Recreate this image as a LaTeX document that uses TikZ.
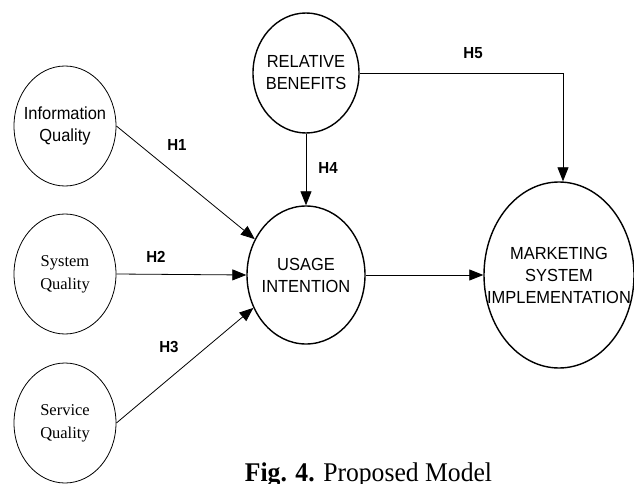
\documentclass[tikz,border=0pt]{standalone}
\usepackage{fontspec}
\setmainfont{Liberation Serif}
\newfontfamily\lblsans[FakeStretch=0.94]{Liberation Sans}
\newfontfamily\lblserif{Liberation Serif}
\newfontfamily\capserif[FakeStretch=0.95]{Liberation Serif}
\usetikzlibrary{shapes.geometric,arrows.meta}
\begin{document}
\begin{tikzpicture}[x=1pt,y=-1pt,
  thinell/.style={draw,ellipse,line width=0.8pt,inner sep=0pt,minimum width=102pt,minimum height=120pt},
  thickell/.style={draw,ellipse,line width=1.4pt,inner sep=0pt},
  sanslbl/.style={align=center,inner sep=0pt,font=\lblsans\fontsize{17.5}{22}\selectfont},
  seriflbl/.style={align=center,inner sep=0pt,font=\lblserif\fontsize{16.5}{23}\selectfont},
  hlbl/.style={inner sep=0pt,font=\lblsans\bfseries\fontsize{16}{18}\selectfont},
  arr/.style={line width=0.8pt,-{Triangle[length=14pt,width=11pt]}}]
\useasboundingbox (0,0) rectangle (634,484);
% ellipses
\node[thinell] (iq) at (65,126) {};
\node[thinell] (sq) at (65,274) {};
\node[thinell] (svq) at (65,423) {};
\node[thickell,minimum width=106pt,minimum height=120pt] (rb) at (306,73) {};
\node[thickell,minimum width=118pt,minimum height=138pt] (ui) at (306,275) {};
\node[thickell,minimum width=150pt,minimum height=186pt] (msi) at (559,275) {};
% texts
\node[sanslbl] (iqt) at (iq) {Information\\Quality};
\node[seriflbl] (sqt) at (sq) {System\\Quality};
\node[seriflbl] (svqt) at (svq) {Service\\Quality};
\node[sanslbl] (rbt) at (rb) {RELATIVE\\BENEFITS};
\node[sanslbl] (uit) at (ui) {USAGE\\INTENTION};
\node[sanslbl] (msit) at (msi) {MARKETING\\SYSTEM\\IMPLEMENTATION};
% connectors
\draw[arr] (iq.east) -- (ui.145);
\draw[arr] (sq.east) -- (ui.west);
\draw[arr] (svq.east) -- (ui.212);
\draw[arr] (rb.south) -- (ui.north);
\draw[arr] (ui.east) -- (msi.west);
\draw[arr] (rb.east) -| ([xshift=4pt]msi.north);
% hypothesis labels
\node[hlbl] (h1) at (177,145) {H1};
\node[hlbl] (h2) at (156,257) {H2};
\node[hlbl] (h3) at (169,347) {H3};
\node[hlbl] (h4) at (328,168) {H4};
\node[hlbl] (h5) at (473,53) {H5};
% caption
\node[anchor=base,inner sep=0pt,font=\capserif\fontsize{27}{30}\selectfont] (cap) at (368.5,481) {\textbf{Fig. 4.} Proposed Model};
\end{tikzpicture}
\end{document}
